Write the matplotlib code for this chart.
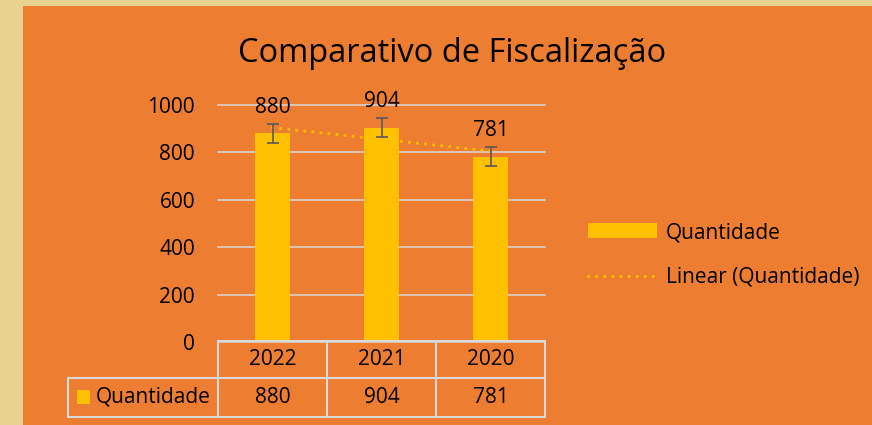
import numpy as np
import matplotlib.pyplot as plt
from matplotlib.patches import Rectangle, Patch
from matplotlib.lines import Line2D
import matplotlib.transforms as mtransforms

plt.rcParams['font.family'] = ['Open Sans', 'DejaVu Sans']

# data
years = ['2022', '2021', '2020']
quantidade = [880, 904, 781]
erro = [40, 40, 40]

ORANGE = '#ED7D31'
BEIGE = '#E8D28F'
YELLOW = '#FFC000'
GRID = '#D9D9D9'
FS = 15

W, H = 872, 425
fig = plt.figure(figsize=(W / 100, H / 100), dpi=100)
fig.patch.set_facecolor(BEIGE)
fig.patches.append(Rectangle((23 / W, 0), 1, 1 - 6 / H, transform=fig.transFigure,
                             facecolor=ORANGE, edgecolor='none', zorder=-5))

# plot area in pixels
px0, px1, py0, py1 = 218, 545, 342, 105
ax = fig.add_axes([px0 / W, (H - py0) / H, (px1 - px0) / W, (py0 - py1) / H])
ax.set_facecolor('none')

x = np.arange(len(years))
ax.bar(x, quantidade, width=0.32, color=YELLOW, zorder=2)
ax.errorbar(x, quantidade, yerr=erro, fmt='none', ecolor='#595959',
            elinewidth=1.2, capsize=4.3, capthick=1.2, zorder=4)

# linear trend
coef = np.polyfit(x, quantidade, 1)
ax.plot([x[0], x[-1]], np.polyval(coef, [x[0], x[-1]]), color=YELLOW, lw=2.2,
        linestyle=(0, (0.05, 2.6)), dash_capstyle='round', zorder=3)

for xi, v in zip(x, quantidade):
    ax.annotate(str(v), (xi, v), xytext=(0, 19), textcoords='offset points',
                ha='center', va='center', fontsize=FS)

ax.set_xlim(-0.5, len(years) - 0.5)
ax.set_ylim(0, 1000)
ax.set_yticks(range(0, 1001, 200))
ax.yaxis.grid(True, color=GRID, lw=1.1, zorder=1)
for gl in ax.get_ygridlines():
    gl.set_clip_on(False)
ax.set_axisbelow(True)
ax.tick_params(axis='y', length=0, pad=16.5, labelsize=FS)
ax.set_xticks([])
for s in ax.spines.values():
    s.set_visible(False)

# data table below the axis
def fx(p):
    return (p - px0) / (px1 - px0)

def fy(p):
    return (py0 - p) / (py0 - py1)

tkw = dict(transform=ax.transAxes, color=GRID, lw=1.5, clip_on=False, zorder=5)
r0, r1, r2 = 341, 378, 417
ax.plot([0, 1], [fy(r0), fy(r0)], **tkw)
ax.plot([fx(68), 1], [fy(r1), fy(r1)], **tkw)
ax.plot([fx(68), 1], [fy(r2), fy(r2)], **tkw)
for xv in [0, 1 / 3, 2 / 3, 1]:
    ax.plot([xv, xv], [fy(r0), fy(r2)], **tkw)
ax.plot([fx(68), fx(68)], [fy(r1), fy(r2)], **tkw)

blend = mtransforms.blended_transform_factory(ax.transData, ax.transAxes)
for xi, yr, v in zip(x, years, quantidade):
    ax.text(xi, fy((r0 + r1) / 2), yr, transform=blend, ha='center', va='center',
            fontsize=FS, clip_on=False)
    ax.text(xi, fy((r1 + r2) / 2), str(v), transform=blend, ha='center', va='center',
            fontsize=FS, clip_on=False)
ax.add_patch(Rectangle((fx(77), fy(404)), fx(90) - fx(77), fy(390) - fy(404),
                       transform=ax.transAxes, facecolor=YELLOW, edgecolor='none',
                       clip_on=False))
ax.text(fx(96), fy((r1 + r2) / 2), 'Quantidade', transform=ax.transAxes,
        ha='left', va='center', fontsize=FS, clip_on=False)

# legend
handles = [Patch(facecolor=YELLOW, edgecolor='none'),
           Line2D([], [], color=YELLOW, lw=2.2, linestyle=(0, (0.05, 2.6)),
                  dash_capstyle='round')]
fig.legend(handles, ['Quantidade', 'Linear (Quantidade)'], loc='upper left',
           bbox_to_anchor=(588 / W, 1 - 222 / H), frameon=False, fontsize=FS,
           borderpad=0, borderaxespad=0, handlelength=3.3, handletextpad=0.45,
           labelspacing=1.15)

fig.text(452 / W, 1 - 53 / H, 'Comparativo de Fiscalização', ha='center',
         va='center', fontsize=23.5)

fig.savefig('out.png', dpi=100, facecolor=fig.get_facecolor())
